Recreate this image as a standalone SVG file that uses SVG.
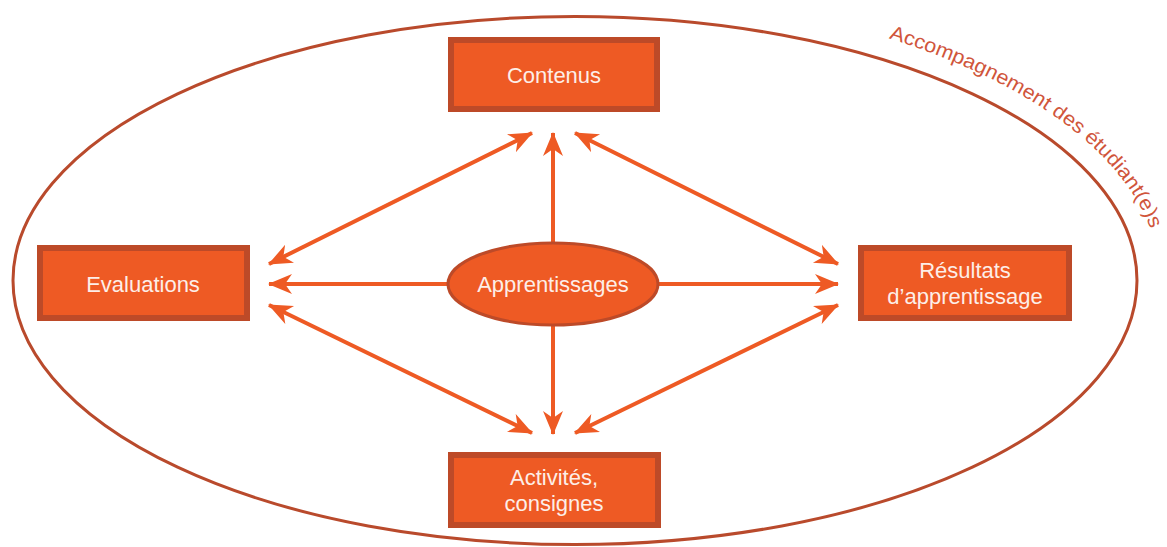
<svg xmlns="http://www.w3.org/2000/svg" width="1167" height="547" viewBox="0 0 1167 547">
<style>
.box{fill:#ee5a24;stroke:#bd4a28;stroke-width:6}
.lbl{font-family:"Liberation Sans",Arial,sans-serif;font-size:22px;fill:#fdeee8;text-anchor:middle}
.arr{stroke:#ee5a24;stroke-width:4;fill:none}
.dbl{marker-start:url(#ah);marker-end:url(#ah)}
.one{marker-end:url(#ah)}
</style>
<defs>
<marker id="ah" markerUnits="userSpaceOnUse" markerWidth="26" markerHeight="22" refX="23" refY="10" orient="auto-start-reverse" viewBox="0 0 26 22">
<path d="M0,0 L24,10 L0,20 L7,10 z" fill="#ee5a24"/>
</marker>
<path id="arcText" d="M 860 29.9 A 585 287 0 0 1 1160 280.5"/>
</defs>
<g id="outer">
<ellipse cx="575" cy="280.5" rx="562" ry="264" fill="none" stroke="#b94a2c" stroke-width="3"/>
<text font-family="'Liberation Sans',Arial,sans-serif" font-size="20" fill="#d0553b"><textPath href="#arcText" startOffset="30" textLength="334" lengthAdjust="spacingAndGlyphs">Accompagnement des étudiant(e)s</textPath></text>
</g>
<g id="connectors">
<line class="arr one" x1="553" y1="244" x2="553" y2="133"/>
<line class="arr one" x1="553" y1="325" x2="553" y2="434"/>
<line class="arr one" x1="449" y1="284" x2="269" y2="284"/>
<line class="arr one" x1="657" y1="284" x2="838" y2="284"/>
<line class="arr dbl" x1="269" y1="264" x2="532" y2="133"/>
<line class="arr dbl" x1="575" y1="133" x2="838" y2="264"/>
<line class="arr dbl" x1="269" y1="305" x2="532" y2="433"/>
<line class="arr dbl" x1="575" y1="433" x2="838" y2="305"/>
</g>
<g id="contenus">
<rect class="box" x="451" y="40" width="206" height="69"/>
<text class="lbl" x="554" y="83">Contenus</text>
</g>
<g id="evaluations">
<rect class="box" x="40" y="248" width="207" height="70"/>
<text class="lbl" x="143" y="292">Evaluations</text>
</g>
<g id="resultats">
<rect class="box" x="861" y="248" width="208" height="70"/>
<text class="lbl" x="965" y="278">Résultats</text>
<text class="lbl" x="965" y="304">d’apprentissage</text>
</g>
<g id="activites">
<rect class="box" x="451" y="455" width="207" height="70"/>
<text class="lbl" x="554" y="485">Activités,</text>
<text class="lbl" x="554" y="511">consignes</text>
</g>
<g id="apprentissages">
<ellipse cx="553" cy="284" rx="105" ry="41" fill="#ee5a24" stroke="#bd4a28" stroke-width="3"/>
<text class="lbl" x="553" y="292">Apprentissages</text>
</g>
</svg>
